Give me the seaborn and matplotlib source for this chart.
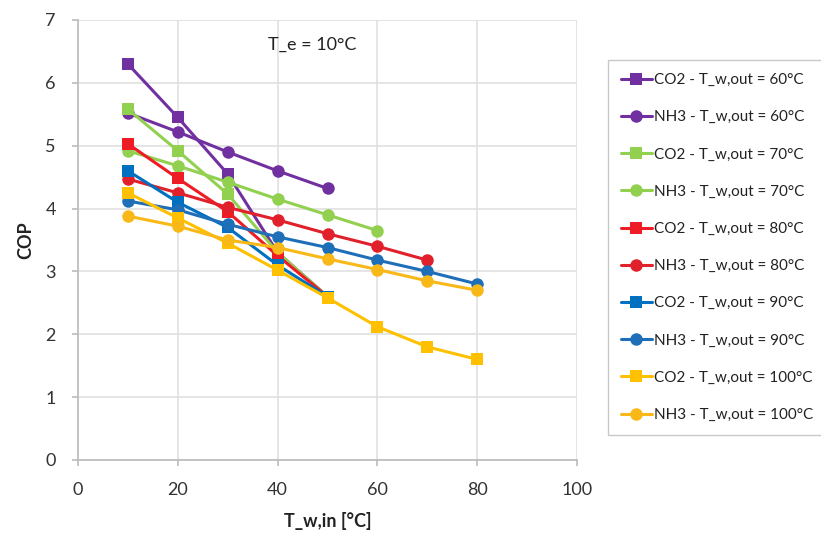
import matplotlib
matplotlib.use("Agg")
import matplotlib.pyplot as plt
import seaborn as sns
import pandas as pd

sns.set_theme(style="white")
plt.rcParams['font.family'] = ['Lato', 'DejaVu Sans']

t_in = [10, 20, 30, 40, 50, 60, 70, 80]

co2_60 = [6.30, 5.45, 4.55, 3.30, 2.60]
nh3_60 = [5.52, 5.22, 4.90, 4.60, 4.32]
co2_70 = [5.58, 4.92, 4.23, 3.30, 2.60]
nh3_70 = [4.92, 4.68, 4.42, 4.15, 3.90, 3.65]
co2_80 = [5.03, 4.48, 3.95, 3.25, 2.60]
nh3_80 = [4.47, 4.25, 4.02, 3.82, 3.60, 3.40, 3.18]
co2_90 = [4.60, 4.10, 3.70, 3.10, 2.60]
nh3_90 = [4.12, 3.98, 3.75, 3.55, 3.38, 3.18, 3.00, 2.80]
co2_100 = [4.25, 3.85, 3.45, 3.02, 2.58, 2.12, 1.80, 1.60]
nh3_100 = [3.88, 3.72, 3.50, 3.38, 3.20, 3.03, 2.85, 2.70]

labels = ["CO2 - T_w,out = 60°C", "NH3 - T_w,out = 60°C",
          "CO2 - T_w,out = 70°C", "NH3 - T_w,out = 70°C",
          "CO2 - T_w,out = 80°C", "NH3 - T_w,out = 80°C",
          "CO2 - T_w,out = 90°C", "NH3 - T_w,out = 90°C",
          "CO2 - T_w,out = 100°C", "NH3 - T_w,out = 100°C"]
series = [co2_60, nh3_60, co2_70, nh3_70, co2_80, nh3_80,
          co2_90, nh3_90, co2_100, nh3_100]
colors = ["#7030A0", "#7030A0", "#92D050", "#92D050", "#EE1C25", "#E0202A",
          "#0070C0", "#1F6FB8", "#FFC000", "#F8B818"]
markers = ["s", "o"] * 5

fig = plt.figure(figsize=(8.21, 5.35), dpi=100)
ax = fig.add_axes([78/821, 75/535, 499/821, 440/535])

for lab, vals, col, mk in zip(labels, series, colors, markers):
    df = pd.DataFrame({"x": t_in[:len(vals)], "y": vals})
    sns.lineplot(data=df, x="x", y="y", ax=ax, color=col, marker=mk,
                 markersize=9, markeredgewidth=0, linewidth=2.2, label=lab,
                 sort=False)

ax.set_xlim(0, 100)
ax.set_ylim(0, 7)
ax.set_xticks([0, 20, 40, 60, 80, 100])
ax.set_yticks(range(0, 8))
ax.grid(True, color="#E0E0E0", linewidth=1.2)
for s in ["top", "right"]:
    ax.spines[s].set_visible(False)
for s in ["left", "bottom"]:
    ax.spines[s].set_color("#BBBBBB")
    ax.spines[s].set_linewidth(1.2)
ax.tick_params(axis="both", labelsize=13, colors="#BBBBBB", labelcolor="#333333",
               length=4, width=1.2, direction="out", bottom=True, left=True)
ax.tick_params(axis="x", pad=12)
ax.tick_params(axis="y", pad=12)
ax.set_xlabel("T_w,in [°C]", fontsize=13, fontweight="bold", labelpad=10, color="#222222")
ax.set_ylabel("COP", fontsize=13, fontweight="bold", labelpad=8, color="#222222")

ax.text(46.9, 6.6, "T_e = 10°C", fontsize=13, ha="center", va="center", color="#222222")

leg = ax.legend(loc="upper left", bbox_to_anchor=(608/821, 1 - 60/535),
                bbox_transform=fig.transFigure, fontsize=11, frameon=True,
                handlelength=2.0, handletextpad=0.15, labelspacing=1.52,
                borderpad=0.85, borderaxespad=0, fancybox=False)
leg.get_frame().set_edgecolor("#BBBBBB")
leg.get_frame().set_linewidth(1.0)
for t in leg.get_texts():
    t.set_color("#222222")

fig.savefig("out.png", dpi=100)
